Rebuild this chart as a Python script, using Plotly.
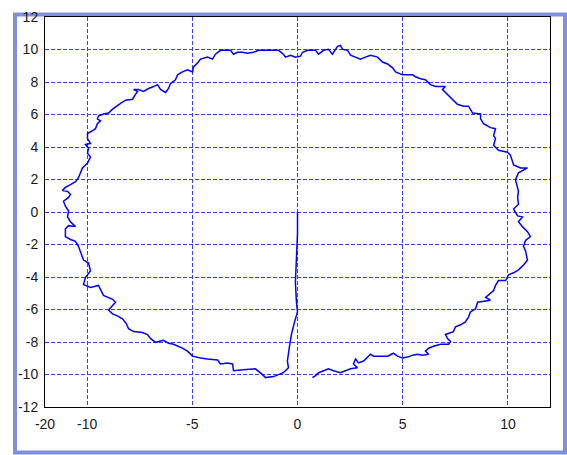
import plotly.graph_objects as go

# Trajectory samples (x, y), split into consecutive legs of the path.
# Leg 1: straight run down from the origin, then the lower-left arc.
leg1_x = [0.00, 0.00, -0.05, -0.10, -0.05, 0.00, -0.14, -0.29, -0.38, -0.48, -0.43, -0.67,
          -1.14, -1.52, -1.66, -2.00, -2.57, -3.04, -3.09, -3.33, -3.66, -3.80, -4.28,
          -4.61, -4.99, -5.23, -5.47, -5.89, -6.13, -6.37, -6.75, -6.99, -7.13, -7.37,
          -7.79, -8.03, -8.13, -8.32, -8.56, -8.79, -8.98, -8.75, -8.65]
leg1_y = [0.00, -1.33, -2.83, -4.34, -5.55, -6.15, -6.76, -7.54, -8.26, -9.17, -9.59, -9.89,
          -10.13, -10.19, -10.01, -9.65, -9.71, -9.77, -9.35, -9.29, -9.35, -9.11, -9.05,
          -8.99, -8.87, -8.56, -8.38, -8.14, -8.08, -7.90, -8.02, -7.78, -7.54, -7.42,
          -7.36, -7.18, -6.88, -6.57, -6.39, -6.27, -6.03, -5.73, -5.55]

# Leg 2: left side, climbing to the upper-left.
leg2_x = [-8.79, -9.22, -9.46, -9.84, -10.17, -10.08, -9.84, -9.93, -10.17, -10.31, -10.41,
          -10.55, -10.79, -11.03, -11.03, -10.88, -10.55, -10.79, -10.93, -10.88, -11.03,
          -11.12, -10.88, -10.79, -10.93, -11.17, -11.03, -10.79, -10.55, -10.41, -10.31,
          -10.22, -9.98, -9.84, -9.98, -9.93, -10.08, -9.84, -9.98, -9.98, -9.74, -9.60,
          -9.51, -9.36, -9.51, -9.46, -9.22, -8.98, -8.79, -8.56, -8.41, -8.17, -7.84,
          -7.70, -7.60, -7.79, -7.56, -7.32, -7.08, -6.84, -6.65, -6.51, -6.27, -6.13,
          -6.04, -5.80, -5.70, -5.47, -5.23, -4.99, -4.94, -4.71]
leg2_y = [-5.37, -5.13, -4.52, -4.64, -4.46, -4.04, -3.62, -3.14, -2.96, -2.53, -2.11,
          -1.81, -1.69, -1.51, -1.03, -0.84, -0.90, -0.60, -0.30, 0.06, 0.36,
          0.66, 0.90, 1.09, 1.27, 1.33, 1.51, 1.69, 1.87, 2.11, 2.41,
          2.71, 3.02, 3.38, 3.62, 3.92, 4.16, 4.22, 4.52, 4.83, 5.01, 5.13,
          5.43, 5.61, 5.73, 5.91, 6.03, 6.09, 6.33, 6.57, 6.69, 6.88, 6.94,
          7.24, 7.42, 7.54, 7.54, 7.42, 7.60, 7.72, 7.84, 7.54, 7.36, 7.60,
          7.90, 8.14, 8.44, 8.62, 8.75, 8.62, 8.93, 9.23]

# Leg 3: across the top.
leg3_x = [-4.61, -4.28, -4.04, -3.90, -3.66, -3.42, -3.18, -3.04, -2.85, -2.61, -2.38,
          -2.09, -1.85, -1.52, -1.19, -0.90, -0.67, -0.57, -0.33, -0.10, 0.14, 0.24,
          0.48, 0.86, 1.00, 1.24, 1.47, 1.66, 1.90, 2.04, 2.14, 2.38, 2.52, 2.76,
          2.99, 3.23, 3.47, 3.80, 4.04, 4.28, 4.52, 4.66]
leg3_y = [9.41, 9.53, 9.41, 9.71, 9.95, 9.95, 9.95, 9.71, 9.83, 9.83, 9.77,
          9.83, 9.95, 9.95, 9.95, 9.95, 9.71, 9.53, 9.65, 9.53, 9.59, 9.83,
          9.95, 9.95, 9.71, 9.95, 10.01, 9.71, 10.19, 10.25, 10.01, 9.95, 9.65, 9.53,
          9.41, 9.53, 9.65, 9.53, 9.23, 9.11, 8.87, 8.62]

# Leg 4: upper-right arc and right side.
leg4_x = [4.99, 5.23, 5.47, 5.61, 5.85, 6.08, 6.32, 6.56, 6.80, 7.03, 6.89, 7.13, 7.37,
          7.60, 7.89, 8.13, 8.32, 8.70, 8.70, 8.84, 9.17, 9.41, 9.32, 9.41, 9.32, 9.55,
          9.98, 10.12, 10.27, 10.60, 10.93, 10.50, 10.36, 10.46, 10.50, 10.46, 10.50,
          10.27, 10.46, 10.69, 10.50, 10.69, 10.93, 11.07, 10.84, 10.74, 10.84, 10.93,
          10.74, 10.50, 10.27, 10.03, 9.89, 9.55, 9.41, 9.32, 9.08, 8.94, 9.17]
leg4_y = [8.44, 8.44, 8.44, 8.32, 8.20, 8.14, 7.84, 7.72, 7.72, 7.72, 7.54, 7.24, 6.94,
          6.63, 6.51, 6.51, 6.09, 6.03, 5.73, 5.43, 5.19, 5.13, 4.70, 4.52, 4.10, 3.80,
          3.68, 3.50, 2.90, 2.71, 2.71, 2.41, 1.99, 1.57, 1.27, 0.90, 0.48,
          0.18, -0.24, -0.30, -0.60, -0.90, -1.21, -1.51, -1.75, -2.11, -2.41, -2.96,
          -3.26, -3.56, -3.74, -3.86, -4.22, -4.22, -4.52, -4.83, -5.07, -5.25, -5.43]

# Leg 5: lower-right arc back toward the bottom.
leg5_x = [8.56, 8.46, 8.22, 8.13, 7.98, 7.75, 7.51, 7.41, 7.13, 7.03, 7.13, 7.27, 7.18,
          6.80, 6.46, 6.23, 6.08, 6.23, 5.94, 5.70, 5.47, 5.23, 4.99, 4.75, 4.56, 4.28,
          3.94, 3.61, 3.47, 3.14, 2.90, 2.76, 2.66, 2.85, 2.52, 2.28, 2.04, 1.71, 1.47,
          1.24, 1.00, 0.86, 0.71]
leg5_y = [-5.55, -5.97, -6.15, -6.45, -6.76, -6.94, -7.06, -7.36, -7.48, -7.54, -7.78, -7.96, -8.14,
          -8.14, -8.26, -8.38, -8.56, -8.75, -8.81, -8.75, -8.81, -8.93, -8.99, -8.87, -8.69, -8.87,
          -8.87, -8.87, -8.75, -9.17, -9.29, -9.05, -9.35, -9.59, -9.65, -9.77, -9.89, -9.77, -9.65,
          -9.77, -9.89, -10.07, -10.19]

# Axis ticks
x_ticks = [-12, -10, -5, 0, 5, 10]
x_tick_text = ["-20", "-10", "-5", "0", "5", "10"]
y_ticks = [-12, -10, -8, -6, -4, -2, 0, 2, 4, 6, 8, 10, 12]
y_tick_text = [str(v) for v in y_ticks]

path_x = leg1_x + leg2_x + leg3_x + leg4_x + leg5_x
path_y = leg1_y + leg2_y + leg3_y + leg4_y + leg5_y

fig = go.Figure()
fig.add_trace(go.Scatter(
    x=path_x, y=path_y, mode="lines",
    line=dict(color="#0000ff", width=1.5),
    hoverinfo="skip", showlegend=False,
))

grid_style = dict(
    showgrid=True, gridcolor="rgb(60,60,250)", gridwidth=1, griddash="4px,2px",
    zeroline=False, showline=True, linecolor="#000000", linewidth=1, mirror=True,
    ticks="", tickfont=dict(family="Liberation Sans, Arial, sans-serif", size=14, color="#1a1a1a"),
)

fig.update_xaxes(range=[-12, 12], tickvals=x_ticks, ticktext=x_tick_text,
                 ticklabelstandoff=4, **grid_style)
fig.update_yaxes(range=[-12, 12], tickvals=y_ticks, ticktext=y_tick_text,
                 ticklabelstandoff=3, **grid_style)

# Window frame around the figure (paper coordinates relative to the plot area)
W, H = 567, 455
L, R, T, B = 45, 550, 9, 407
pw, ph = R - L, B - T
def px_x(p):
    return (p - L) / pw
def px_y(p):
    return (B - p) / ph

fig.add_shape(type="rect", xref="paper", yref="paper",
              x0=px_x(15), x1=px_x(565), y0=px_y(453.5), y1=px_y(6.5),
              line=dict(color="#8090dc", width=4), fillcolor="rgba(0,0,0,0)", layer="below")

fig.update_layout(
    width=W, height=H,
    margin=dict(l=L, r=W - R, t=T, b=H - B),
    paper_bgcolor="#ffffff", plot_bgcolor="#ffffff",
)

fig.write_html("out.html")
